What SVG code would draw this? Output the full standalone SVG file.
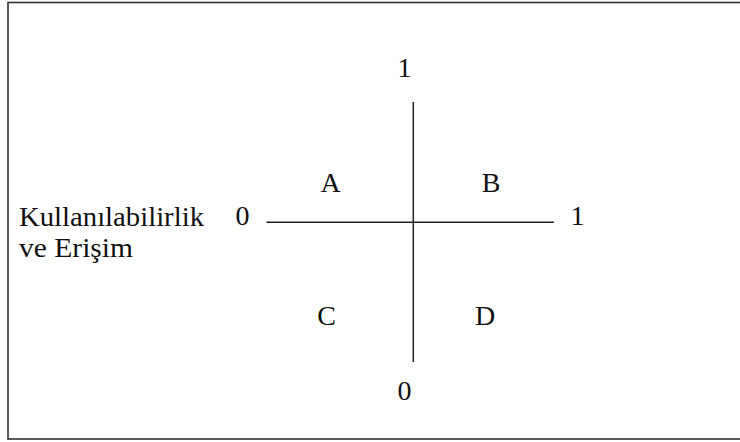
<svg xmlns="http://www.w3.org/2000/svg" width="740" height="442" viewBox="0 0 740 442">
<style>
.t{font-family:"Liberation Serif","Times New Roman",serif;font-size:28px;fill:#111}
.m{text-anchor:middle}
.ax{stroke:#222;stroke-width:1.5;fill:none}
</style>
<rect x="0" y="0" width="740" height="442" fill="#fff"/>
<rect id="frame" x="8" y="2.5" width="740" height="436.5" fill="none" stroke="#333" stroke-width="1.6"/>
<g id="connectors">
<line class="ax" x1="413.3" y1="102" x2="413.3" y2="362"/>
<line class="ax" x1="266.5" y1="222.3" x2="554" y2="222.3"/>
</g>
<g id="axis-label"><text class="t" x="19" y="226" textLength="185" lengthAdjust="spacingAndGlyphs">Kullanılabilirlik</text><text class="t" x="19" y="257" textLength="114" lengthAdjust="spacingAndGlyphs">ve Erişim</text></g>
<g id="x0"><text class="t m" x="242.5" y="225">0</text></g>
<g id="x1"><text class="t m" x="577.5" y="225">1</text></g>
<g id="y1"><text class="t m" x="404.5" y="77">1</text></g>
<g id="y0"><text class="t m" x="404.5" y="400">0</text></g>
<g id="A"><text class="t m" x="330.5" y="192">A</text></g>
<g id="B"><text class="t m" x="491" y="192">B</text></g>
<g id="C"><text class="t m" x="326.5" y="325">C</text></g>
<g id="D"><text class="t m" x="485" y="325">D</text></g>
</svg>
